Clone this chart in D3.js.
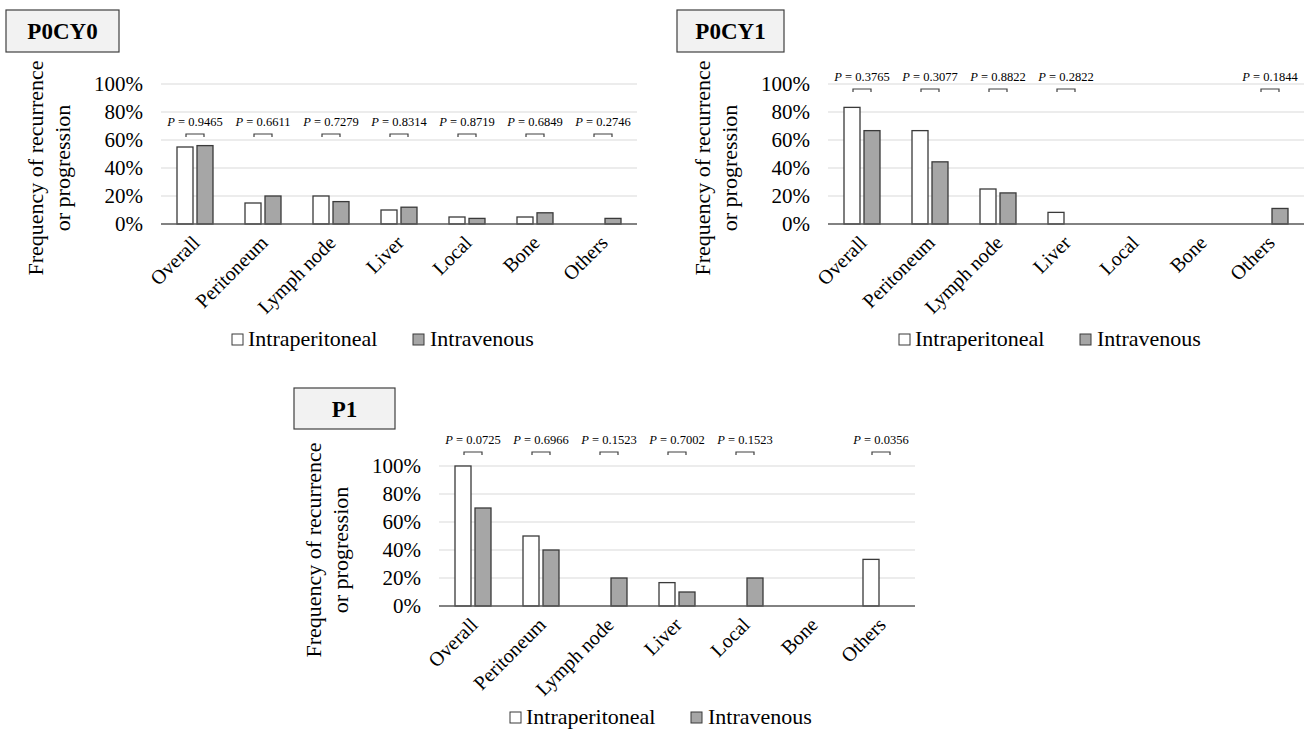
<!DOCTYPE html>
<html>
<head>
<meta charset="utf-8">
<script src="https://cdn.jsdelivr.net/npm/d3@7"></script>
<style>
  body { margin: 0; background: #fff; }
  svg { display: block; }
  svg text { font-family: "Liberation Serif", "Times New Roman", Times, "DejaVu Serif", serif !important; fill: #000; }
</style>
</head>
<body>
<svg id="chart" width="1311" height="732"></svg>
<script>
const categories = ["Overall", "Peritoneum", "Lymph node", "Liver", "Local", "Bone", "Others"];
const seriesNames = ["Intraperitoneal", "Intravenous"];
const yTicks = [0, 20, 40, 60, 80, 100];

// values in percent
const p0cy0Ip = [55, 15, 20, 10, 5, 5, 0];
const p0cy0Iv = [56, 20, 16, 12, 4, 8, 4];
const p0cy0P = ["0.9465", "0.6611", "0.7279", "0.8314", "0.8719", "0.6849", "0.2746"];

const p0cy1Ip = [83.3, 66.7, 25, 8.3, 0, 0, 0];
const p0cy1Iv = [66.7, 44.4, 22.2, 0, 0, 0, 11.1];
const p0cy1P = ["0.3765", "0.3077", "0.8822", "0.2822", null, null, "0.1844"];

const p1Ip = [100, 50, 0, 16.7, 0, 0, 33.3];
const p1Iv = [70, 40, 20, 10, 20, 0, 0];
const p1P = ["0.0725", "0.6966", "0.1523", "0.7002", "0.1523", null, "0.0356"];

const colors = {Intraperitoneal: "#ffffff", Intravenous: "#a6a6a6"};
const serif = '"Liberation Serif", "Times New Roman", Times, "DejaVu Serif", serif';

const panels = [
  {title: "P0CY0", box: [6, 10, 113, 42], x0: 161, y0: 84, ip: p0cy0Ip, iv: p0cy0Iv, p: p0cy0P, pText: 42, pBracket: 50, leg: 110},
  {title: "P0CY1", box: [677, 10, 107, 42], x0: 828, y0: 84, ip: p0cy1Ip, iv: p0cy1Iv, p: p0cy1P, pText: -3, pBracket: 5, leg: 110},
  {title: "P1", box: [294, 388, 101, 41], x0: 439, y0: 466, ip: p1Ip, iv: p1Iv, p: p1P, pText: -22, pBracket: -14, leg: 106}
];

const W = 476, H = 140;
const svg = d3.select("#chart").attr("font-family", serif);

panels.forEach(function(pn) {
  const g = svg.append("g");

  // title box
  g.append("rect")
    .attr("x", pn.box[0]).attr("y", pn.box[1])
    .attr("width", pn.box[2]).attr("height", pn.box[3])
    .attr("fill", "#f2f2f2").attr("stroke", "#404040").attr("stroke-width", 1.2);
  g.append("text")
    .attr("x", pn.box[0] + pn.box[2] / 2).attr("y", pn.box[1] + pn.box[3] / 2)
    .attr("dy", "0.35em")
    .attr("text-anchor", "middle")
    .style("font-size", "23px").style("font-weight", "bold")
    .text(pn.title);

  const x = d3.scaleBand().domain(categories).range([pn.x0, pn.x0 + W]).paddingInner(32 / 68).paddingOuter(16 / 68);
  const xs = d3.scaleBand().domain(seriesNames).range([0, x.bandwidth()]).paddingInner(0.2);
  const y = d3.scaleLinear().domain([0, 100]).range([pn.y0 + H, pn.y0]);

  // gridlines
  g.append("g").selectAll("line").data(yTicks.filter(d => d > 0)).join("line")
    .attr("x1", pn.x0).attr("x2", pn.x0 + W)
    .attr("y1", d => y(d)).attr("y2", d => y(d))
    .attr("stroke", "#d9d9d9").attr("stroke-width", 1.2);

  // y axis labels
  const yAxis = d3.axisLeft(y).tickValues(yTicks).tickFormat(d => d + "%").tickSize(0).tickPadding(18);
  const ya = g.append("g").attr("transform", `translate(${pn.x0},0)`).call(yAxis)
    .attr("font-family", serif);
  ya.select(".domain").remove();
  ya.selectAll("text").style("font-size", "21px");

  // axis title
  const tg = g.append("g");
  tg.append("text")
    .attr("transform", `translate(${pn.x0 - 126},${pn.y0 + 84}) rotate(-90)`)
    .attr("text-anchor", "middle").attr("dy", "0.35em")
    .style("font-size", "22px")
    .text("Frequency of recurrence");
  tg.append("text")
    .attr("transform", `translate(${pn.x0 - 99},${pn.y0 + 84}) rotate(-90)`)
    .attr("text-anchor", "middle").attr("dy", "0.35em")
    .style("font-size", "22px")
    .text("or progression");

  // bars
  const rows = categories.map((c, i) => ({cat: c, vals: [
    {s: "Intraperitoneal", v: pn.ip[i]}, {s: "Intravenous", v: pn.iv[i]}]}));
  g.append("g").selectAll("g").data(rows).join("g")
    .attr("transform", d => `translate(${x(d.cat)},0)`)
    .selectAll("rect").data(d => d.vals.filter(v => v.v > 0)).join("rect")
    .attr("x", d => xs(d.s))
    .attr("y", d => y(d.v))
    .attr("width", xs.bandwidth())
    .attr("height", d => y(0) - y(d.v))
    .attr("fill", d => colors[d.s])
    .attr("stroke", "#3a3a3a").attr("stroke-width", 1.3);

  // x axis
  const xAxis = d3.axisBottom(x).tickSize(0).tickPadding(0);
  const xa = g.append("g").attr("transform", `translate(0,${pn.y0 + H})`).call(xAxis)
    .attr("font-family", serif);
  xa.select(".domain").attr("stroke", "#595959").attr("stroke-width", 1.5)
    .attr("d", `M${pn.x0},0H${pn.x0 + W}`);
  xa.selectAll("text")
    .style("font-size", "20px")
    .attr("text-anchor", "end")
    .attr("dy", "0")
    .attr("transform", "translate(6,20) rotate(-45)");

  // p-values with brackets
  const pv = categories.map((c, i) => ({cat: c, p: pn.p[i]})).filter(d => d.p);
  const pg = g.append("g").selectAll("g").data(pv).join("g")
    .attr("transform", d => `translate(${x(d.cat) + x.bandwidth() / 2},${pn.y0})`);
  pg.append("path")
    .attr("d", `M-9,${pn.pBracket + 3}V${pn.pBracket}H9V${pn.pBracket + 3}`)
    .attr("fill", "none").attr("stroke", "#404040").attr("stroke-width", 1.2);
  const pt = pg.append("text")
    .attr("y", pn.pText)
    .attr("text-anchor", "middle")
    .style("font-size", "12.5px");
  pt.append("tspan").style("font-style", "italic").text("P");
  pt.append("tspan").text(d => " = " + d.p);

  // legend
  const lg = g.append("g").attr("transform", `translate(${pn.x0},${pn.y0 + H + pn.leg})`);
  const items = [{s: "Intraperitoneal", sx: 71, tx: 87}, {s: "Intravenous", sx: 252, tx: 269}];
  lg.selectAll("rect").data(items).join("rect")
    .attr("x", d => d.sx).attr("y", 0).attr("width", 11).attr("height", 11)
    .attr("fill", d => colors[d.s]).attr("stroke", "#3a3a3a").attr("stroke-width", 1);
  lg.selectAll("text").data(items).join("text")
    .attr("x", d => d.tx).attr("y", 12)
    .style("font-size", "22px")
    .text(d => d.s);
});
</script>
</body>
</html>
